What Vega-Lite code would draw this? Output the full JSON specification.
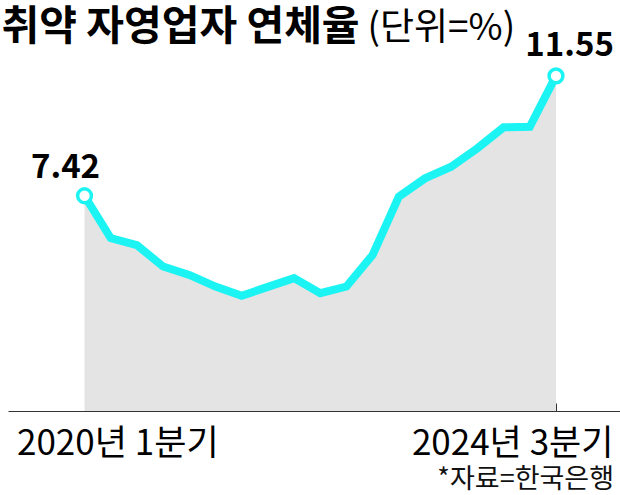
{
  "$schema": "https://vega.github.io/schema/vega-lite/v6.json",
  "width": 612,
  "height": 351,
  "autosize": {"type": "none"},
  "padding": {"left": 8, "top": 60, "right": 0, "bottom": 84},
  "background": "white",
  "config": {"view": {"stroke": null}, "font": "Noto Sans CJK KR"},
  "title": {
    "text": "*자료=한국은행",
    "orient": "bottom",
    "anchor": "end",
    "frame": "group",
    "font": "Noto Sans CJK KR",
    "fontSize": 27,
    "fontWeight": "normal",
    "color": "#111111",
    "offset": 6,
    "dx": -6
  },
  "data": {
    "values": [
      {"순번": 0, "분기": "2020년 1분기", "연체율": 7.42},
      {"순번": 1, "분기": "2020년 2분기", "연체율": 5.96},
      {"순번": 2, "분기": "2020년 3분기", "연체율": 5.72},
      {"순번": 3, "분기": "2020년 4분기", "연체율": 4.98},
      {"순번": 4, "분기": "2021년 1분기", "연체율": 4.69},
      {"순번": 5, "분기": "2021년 2분기", "연체율": 4.29},
      {"순번": 6, "분기": "2021년 3분기", "연체율": 3.97},
      {"순번": 7, "분기": "2021년 4분기", "연체율": 4.28},
      {"순번": 8, "분기": "2022년 1분기", "연체율": 4.58},
      {"순번": 9, "분기": "2022년 2분기", "연체율": 4.06},
      {"순번": 10, "분기": "2022년 3분기", "연체율": 4.29},
      {"순번": 11, "분기": "2022년 4분기", "연체율": 5.38},
      {"순번": 12, "분기": "2023년 1분기", "연체율": 7.39},
      {"순번": 13, "분기": "2023년 2분기", "연체율": 8.02},
      {"순번": 14, "분기": "2023년 3분기", "연체율": 8.42},
      {"순번": 15, "분기": "2023년 4분기", "연체율": 9.06},
      {"순번": 16, "분기": "2024년 1분기", "연체율": 9.78},
      {"순번": 17, "분기": "2024년 2분기", "연체율": 9.80},
      {"순번": 18, "분기": "2024년 3분기", "연체율": 11.55}
    ]
  },
  "encoding": {
    "x": {
      "field": "순번",
      "type": "quantitative",
      "scale": {"domain": [-2.921, 20.444], "nice": false, "zero": false},
      "axis": {
        "title": "(단위=%)",
        "titleX": 359,
        "titleY": -372,
        "titleAlign": "left",
        "titleBaseline": "alphabetic",
        "titleFont": "Noto Sans CJK KR",
        "titleFontSize": 37,
        "titleFontWeight": "normal",
        "titleColor": "#000000",
        "values": [0, 18],
        "labelExpr": "datum.value == 0 ? '2020년 1분기' : '2024년 3분기'",
        "labelAngle": 0,
        "labelFont": "Noto Sans CJK KR",
        "labelFontSize": 35,
        "labelColor": "#000000",
        "labelBaseline": "alphabetic",
        "labelPadding": 51,
        "labelLimit": 0,
        "labelOverlap": false,
        "labelBound": false,
        "labelFlush": false,
        "labelAlign": {"condition": {"test": "datum.value == 0", "value": "left"}, "value": "right"},
        "labelOffset": {"condition": {"test": "datum.value == 0", "value": -68}, "value": 57},
        "tickSize": -8,
        "tickColor": "#333333",
        "tickWidth": 1,
        "domainColor": "#333333",
        "domainWidth": 1.2,
        "grid": false
      }
    },
    "y": {
      "field": "연체율",
      "type": "quantitative",
      "scale": {"domain": [0, 12.1], "nice": false},
      "axis": {
        "title": "취약 자영업자 연체율",
        "titleAngle": 0,
        "titleX": -7,
        "titleY": -21,
        "titleAlign": "left",
        "titleBaseline": "alphabetic",
        "titleFont": "Noto Sans CJK KR",
        "titleFontSize": 41,
        "titleFontWeight": "bold",
        "titleColor": "#000000",
        "titleLimit": 0,
        "labels": false,
        "ticks": false,
        "domain": false,
        "grid": false
      }
    }
  },
  "layer": [
    {"mark": {"type": "area", "color": "#E4E4E4"}},
    {"mark": {"type": "line", "color": "#1CF4F4", "strokeWidth": 8, "strokeJoin": "miter"}},
    {
      "transform": [{"filter": "datum['순번'] == 0 || datum['순번'] == 18"}],
      "mark": {"type": "point", "filled": true, "fill": "white", "stroke": "#1CF4F4", "strokeWidth": 3.5, "size": 190, "opacity": 1}
    },
    {
      "transform": [{"filter": "datum['순번'] == 0"}],
      "mark": {"type": "text", "align": "center", "baseline": "alphabetic", "dx": -19, "dy": -18, "font": "Noto Sans CJK KR", "fontSize": 33, "fontWeight": "bold", "color": "#000000"},
      "encoding": {"text": {"field": "연체율", "type": "quantitative", "format": ".2f"}}
    },
    {
      "transform": [{"filter": "datum['순번'] == 18"}],
      "mark": {"type": "text", "align": "right", "baseline": "alphabetic", "dx": 58, "dy": -20, "font": "Noto Sans CJK KR", "fontSize": 33, "fontWeight": "bold", "color": "#000000"},
      "encoding": {"text": {"field": "연체율", "type": "quantitative", "format": ".2f"}}
    }
  ]
}
